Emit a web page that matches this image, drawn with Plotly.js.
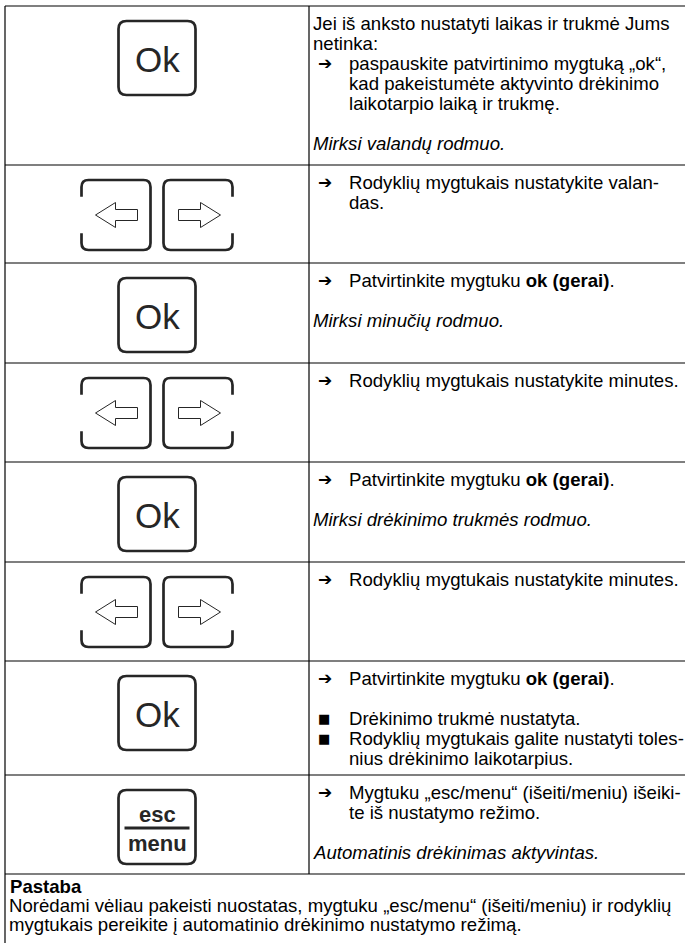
<!DOCTYPE html>
<html>
<head>
<meta charset="utf-8">
<script src="https://cdn.plot.ly/plotly-3.0.1.min.js"></script>
<style>
html,body{margin:0;padding:0;background:#fff;}
#chart{width:685px;height:943px;}
</style>
</head>
<body>
<div id="chart"></div>
<script>
// ---- data: icons per row and the text lines of each row ----
const rowIcons = ["ok", "arrows", "ok", "arrows", "ok", "arrows", "ok", "esc"];
// line kinds: p = plain, a = arrow item, c = continuation (indented), b = bullet, i = italic, s = blank
const rowKinds = [
  ["p", "p", "a", "c", "c", "s", "i"],
  ["a", "c"],
  ["a", "s", "i"],
  ["a"],
  ["a", "s", "i"],
  ["a"],
  ["a", "s", "b", "b", "c"],
  ["a", "c", "s", "i"]
];
const rowLines = [
  ["Jei iš anksto nustatyti laikas ir trukmė Jums", "netinka:", "paspauskite patvirtinimo mygtuką „ok“,", "kad pakeistumėte aktyvinto drėkinimo", "laikotarpio laiką ir trukmę.", "", "Mirksi valandų rodmuo."],
  ["Rodyklių mygtukais nustatykite valan-", "das."],
  ["Patvirtinkite mygtuku <b>ok (gerai)</b>.", "", "Mirksi minučių rodmuo."],
  ["Rodyklių mygtukais nustatykite minutes."],
  ["Patvirtinkite mygtuku <b>ok (gerai)</b>.", "", "Mirksi drėkinimo trukmės rodmuo."],
  ["Rodyklių mygtukais nustatykite minutes."],
  ["Patvirtinkite mygtuku <b>ok (gerai)</b>.", "", "Drėkinimo trukmė nustatyta.", "Rodyklių mygtukais galite nustatyti toles-", "nius drėkinimo laikotarpius."],
  ["Mygtuku „esc/menu“ (išeiti/meniu) išeiki-", "te iš nustatymo režimo.", "", "Automatinis drėkinimas aktyvintas."]
];
const noteTitle = "Pastaba";
const noteLines = [
  "Norėdami vėliau pakeisti nuostatas, mygtuku „esc/menu“ (išeiti/meniu) ir rodyklių",
  "mygtukais pereikite į automatinio drėkinimo nustatymo režimą."
];
// row boundaries (page y, px)
const rowEdges = [6, 165, 263, 363, 462, 562, 661, 775, 874];

// ---- layout constants ----
const W = 685, H = 943;
const X0 = 5, XDIV = 309, XR = 700;
const FONT = "Liberation Sans, Arial, Helvetica, sans-serif";
const FS = 18.6, LH = 20, NOTE_LH = 19, FIRST = 17;
const TEXT_X = XDIV + 2, ARROW_X = XDIV + 7, INDENT_X = XDIV + 38;
const ICON_CX = 157;
const LINE = {color: "#000", width: 1.2};
const ICON_COLOR = "#262626";
const ICON_LINE = {color: ICON_COLOR, width: 2.7};

const shapes = [];
const ann = [];

// grid
shapes.push({type: "line", x0: X0, x1: X0, y0: rowEdges[0], y1: H + 10, line: LINE});
shapes.push({type: "line", x0: XDIV, x1: XDIV, y0: rowEdges[0], y1: rowEdges[rowEdges.length - 1], line: LINE});
rowEdges.forEach(y => shapes.push({type: "line", x0: X0, x1: XR, y0: y, y1: y, line: LINE}));

function rrect(x0, y0, x1, y1, r) {
  return `M${x0 + r},${y0} H${x1 - r} Q${x1},${y0} ${x1},${y0 + r} V${y1 - r} Q${x1},${y1} ${x1 - r},${y1} H${x0 + r} Q${x0},${y1} ${x0},${y1 - r} V${y0 + r} Q${x0},${y0} ${x0 + r},${y0} Z`;
}
function bracketBox(x0, y0, x1, y1, r, openSide) {
  const h = y1 - y0, g0 = y0 + h * 0.24, g1 = y1 - h * 0.24;
  if (openSide === "left") {
    return `M${x0},${g0} V${y0 + r} Q${x0},${y0} ${x0 + r},${y0} H${x1 - r} Q${x1},${y0} ${x1},${y0 + r} V${y1 - r} Q${x1},${y1} ${x1 - r},${y1} H${x0 + r} Q${x0},${y1} ${x0},${y1 - r} V${g1}`;
  }
  return `M${x1},${g0} V${y0 + r} Q${x1},${y0} ${x1 - r},${y0} H${x0 + r} Q${x0},${y0} ${x0},${y0 + r} V${y1 - r} Q${x0},${y1} ${x0 + r},${y1} H${x1 - r} Q${x1},${y1} ${x1},${y1 - r} V${g1}`;
}
function arrowPath(xa, xb, yc, dir) {
  // hollow block arrow from xa to xb; dir = -1 points left, +1 points right
  const hh = 12.5, sh = 5.5, head = 20;
  if (dir < 0) {
    const xh = xa + head;
    return `M${xa},${yc} L${xh},${yc - hh} V${yc - sh} H${xb} V${yc + sh} H${xh} V${yc + hh} Z`;
  }
  const xh = xb - head;
  return `M${xb},${yc} L${xh},${yc - hh} V${yc - sh} H${xa} V${yc + sh} H${xh} V${yc + hh} Z`;
}

rowIcons.forEach((kind, i) => {
  const top = rowEdges[i] + 15;
  if (kind === "ok" || kind === "esc") {
    const w = 77, h = 74;
    const x0 = ICON_CX - w / 2, x1 = ICON_CX + w / 2;
    shapes.push({type: "path", path: rrect(x0, top, x1, top + h, 8), line: ICON_LINE});
    if (kind === "ok") {
      ann.push({x: ICON_CX, y: top + h / 2 + 1, text: "Ok", showarrow: false, xanchor: "center", yanchor: "middle",
        font: {family: FONT, size: 35, color: ICON_COLOR}});
    } else {
      ann.push({x: ICON_CX, y: top + h / 2 - 13, text: "<b>esc</b>", showarrow: false, xanchor: "center", yanchor: "middle",
        font: {family: FONT, size: 22, color: ICON_COLOR}});
      shapes.push({type: "line", x0: x0 + 6, x1: x1 - 6, y0: top + h / 2 + 1, y1: top + h / 2 + 1, line: {color: ICON_COLOR, width: 2.8}});
      ann.push({x: ICON_CX, y: top + h / 2 + 16, text: "<b>menu</b>", showarrow: false, xanchor: "center", yanchor: "middle",
        font: {family: FONT, size: 22, color: ICON_COLOR}});
    }
  } else {
    const bw = 69, gap = 13, h = 70;
    const lx0 = ICON_CX - gap / 2 - bw, lx1 = ICON_CX - gap / 2;
    const rx0 = ICON_CX + gap / 2, rx1 = ICON_CX + gap / 2 + bw;
    shapes.push({type: "path", path: bracketBox(lx0, top, lx1, top + h, 7, "left"), line: ICON_LINE});
    shapes.push({type: "path", path: bracketBox(rx0, top, rx1, top + h, 7, "right"), line: ICON_LINE});
    const yc = top + h / 2;
    shapes.push({type: "path", path: arrowPath(lx0 + 14, lx1 - 13, yc, -1), line: {color: ICON_COLOR, width: 1}});
    shapes.push({type: "path", path: arrowPath(rx0 + 15, rx1 - 12, yc, 1), line: {color: ICON_COLOR, width: 1}});
  }

  // text
  rowLines[i].forEach((t, j) => {
    const k = rowKinds[i][j];
    if (k === "s") return;
    const y = rowEdges[i] + FIRST + j * LH;
    let x = TEXT_X, txt = t;
    if (k === "a") {
      ann.push({x: ARROW_X, y: y, text: "➔", showarrow: false, xanchor: "left", yanchor: "middle",
        font: {family: "DejaVu Sans, sans-serif", size: 17, color: "#000"}});
      x = INDENT_X;
    } else if (k === "b") {
      ann.push({x: ARROW_X, y: y, text: "■", showarrow: false, xanchor: "left", yanchor: "middle",
        font: {family: "DejaVu Sans, sans-serif", size: 13, color: "#000"}});
      x = INDENT_X;
    } else if (k === "c") {
      x = INDENT_X;
    } else if (k === "i") {
      txt = "<i>" + t + "</i>";
    }
    ann.push({x: x, y: y, text: txt, showarrow: false, xanchor: "left", yanchor: "middle",
      font: {family: FONT, size: FS, color: "#000"}});
  });
});

// note row
const nTop = rowEdges[rowEdges.length - 1];
ann.push({x: X0 + 3, y: nTop + 12, text: "<b>" + noteTitle + "</b>", showarrow: false, xanchor: "left", yanchor: "middle",
  font: {family: FONT, size: FS, color: "#000"}});
noteLines.forEach((t, j) => {
  ann.push({x: X0 + 2, y: nTop + 12 + (j + 1) * NOTE_LH, text: t, showarrow: false, xanchor: "left", yanchor: "middle",
    font: {family: FONT, size: FS, color: "#000"}});
});

const layout = {
  width: W, height: H,
  margin: {l: 0, r: 0, t: 0, b: 0},
  paper_bgcolor: "#fff", plot_bgcolor: "#fff",
  showlegend: false,
  xaxis: {range: [0, W], visible: false, fixedrange: true},
  yaxis: {range: [H, 0], visible: false, fixedrange: true},
  shapes: shapes,
  annotations: ann
};
Plotly.newPlot("chart", [{x: [], y: [], type: "scatter", hoverinfo: "skip"}], layout, {staticPlot: true, displayModeBar: false});
</script>
</body>
</html>
